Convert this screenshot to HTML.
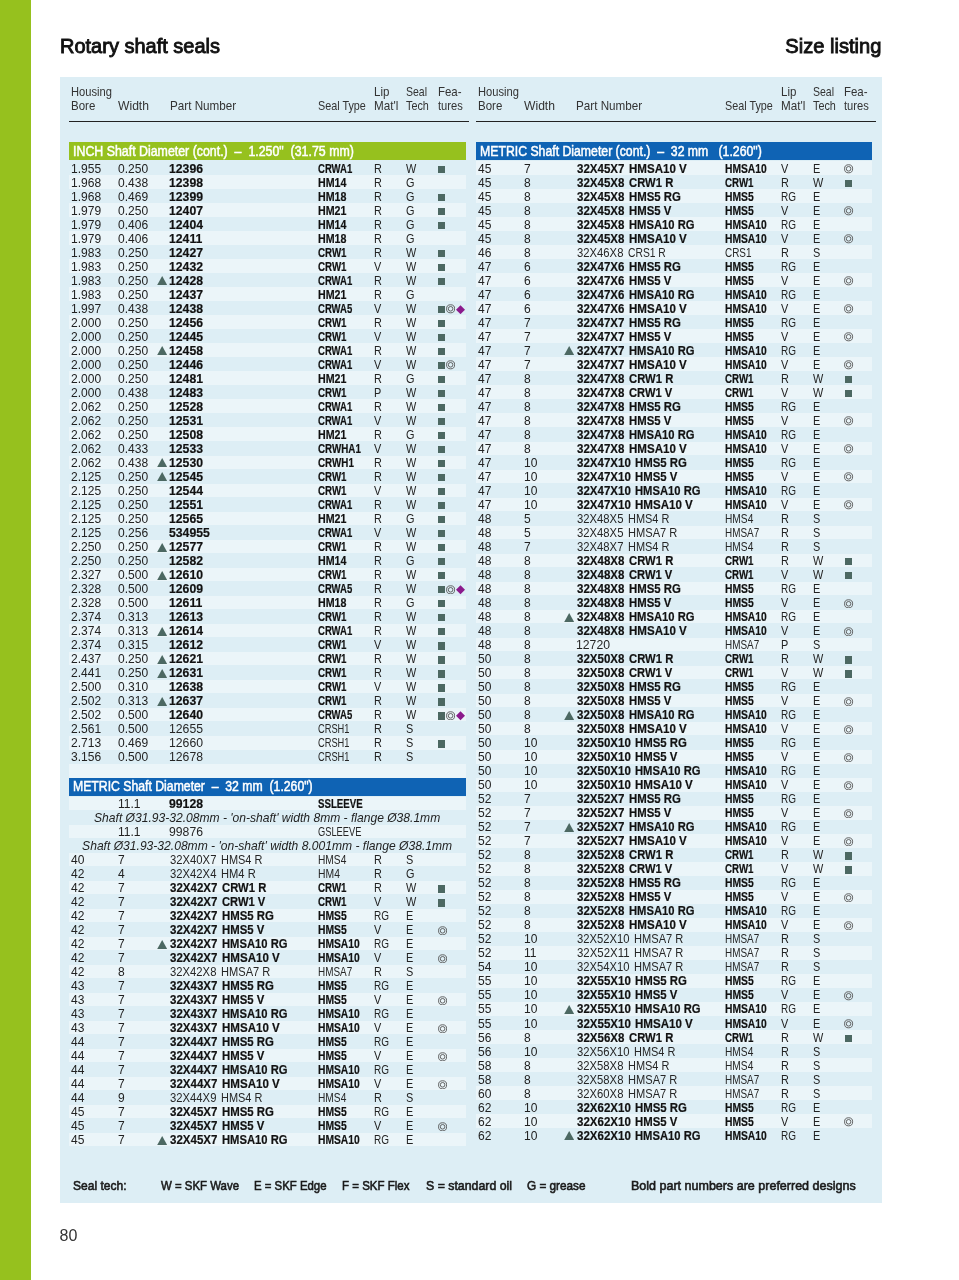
<!DOCTYPE html>
<html lang="en"><head><meta charset="utf-8"><title>Rotary shaft seals - Size listing</title>
<style>
html,body{margin:0;padding:0;background:#fff}
body{width:959px;height:1280px;overflow:hidden;font-family:"Liberation Sans",sans-serif;color:#111}
.page{position:relative;width:959px;height:1280px;overflow:hidden}
.bar{position:absolute;left:0;top:0;width:30.6px;height:1280px;background:#96c11e}
.panel{position:absolute;left:59.5px;top:77px;width:822.1px;height:1125.5px;background:#ddeef5}
.title{position:absolute;top:34.4px;font-size:20.6px;line-height:24px;font-weight:normal;-webkit-text-stroke:.9px #111;white-space:nowrap;color:#111}
.tl{left:60px;transform-origin:0 50%}
.tr{right:78px;transform-origin:100% 50%}
.hd{position:absolute;top:0;width:400px;height:130px}
.h{position:absolute;font-size:13.2px;line-height:16px;white-space:nowrap;color:#333;transform-origin:0 50%}
.h1{top:84.3px}.h2{top:98.1px}
.rule{position:absolute;left:0;top:121.1px;width:399.5px;height:1.3px;background:#222}
.col{position:absolute;top:0;width:396.3px;height:1160px}
.band{position:absolute;left:0;width:396.3px;height:18.1px}
.band.green{background:#96c11e}
.band.blue{background:#0f63b4}
.bt{font-weight:normal;-webkit-text-stroke:.5px #fff;position:absolute;left:3.8px;top:.6px;font-size:14px;line-height:16px;color:#fff;white-space:pre;transform-origin:0 50%}
.row{position:absolute;left:0;width:396.3px;height:13.7px}
.row.alt{background:#ebf5f9}
.c{position:absolute;top:.4px;font-size:13.3px;line-height:14px;white-space:nowrap;transform-origin:0 50%;color:#222}
.bd .p,.bd .t{font-weight:bold;color:#111;-webkit-text-stroke:.2px #111}
.lt .p,.lt .t{color:#262626}
.b{left:2px}.w{left:48.3px}.p{left:100.8px}.t{left:248.8px}.l{left:304.5px}.s{left:337px}
.f{position:absolute;left:368.3px;top:0;height:14px}
.sq{position:absolute;top:4.5px;width:7.2px;height:7.3px;background:#4c6862}
.ci{position:absolute;top:2.9px;width:9.2px;height:9.6px;fill:none;stroke:#505050;stroke-width:.95}
.di{position:absolute;top:3.6px;width:9px;height:9.3px;fill:#8b1a8c}
.tri{position:absolute;left:87.6px;top:2.9px;width:10.4px;height:9.1px;fill:#4c6862}
.note{position:absolute;left:-60px;right:-60px;top:.4px;text-align:center;font-style:italic;font-size:13.3px;line-height:14px;white-space:nowrap;color:#222}
.legend{position:absolute;left:0;top:1177px;width:959px;height:18px}
.lg{position:absolute;top:0;font-size:13.2px;line-height:18px;font-weight:normal;-webkit-text-stroke:.6px #1a1a1a;white-space:nowrap;color:#1a1a1a;transform-origin:0 50%}
.pn{position:absolute;left:59.5px;top:1226.3px;font-size:16px;line-height:20px;color:#333}

</style></head><body>
<div class="page">
<div class="bar"></div>
<div class="title tl" style="transform:scaleX(0.971)">Rotary shaft seals</div>
<div class="title tr" style="transform:scaleX(0.977)">Size listing</div>
<div class="panel"></div>
<div class="hd" style="left:69.30px"><span class="h h1" style="left:2.0px;transform:scaleX(0.845)">Housing</span><span class="h h2" style="left:2.0px;transform:scaleX(0.872)">Bore</span><span class="h h2" style="left:48.3px;transform:scaleX(0.919)">Width</span><span class="h h2" style="left:100.3px;transform:scaleX(0.886)">Part Number</span><span class="h h2" style="left:248.8px;transform:scaleX(0.819)">Seal Type</span><span class="h h1" style="left:304.5px;transform:scaleX(0.873)">Lip</span><span class="h h2" style="left:304.5px;transform:scaleX(0.885)">Mat'l</span><span class="h h1" style="left:337.0px;transform:scaleX(0.798)">Seal</span><span class="h h2" style="left:337.0px;transform:scaleX(0.819)">Tech</span><span class="h h1" style="left:368.3px;transform:scaleX(0.869)">Fea-</span><span class="h h2" style="left:368.3px;transform:scaleX(0.846)">tures</span><div class="rule"></div></div>
<div class="hd" style="left:476.20px"><span class="h h1" style="left:2.0px;transform:scaleX(0.845)">Housing</span><span class="h h2" style="left:2.0px;transform:scaleX(0.872)">Bore</span><span class="h h2" style="left:48.3px;transform:scaleX(0.919)">Width</span><span class="h h2" style="left:100.3px;transform:scaleX(0.886)">Part Number</span><span class="h h2" style="left:248.8px;transform:scaleX(0.819)">Seal Type</span><span class="h h1" style="left:304.5px;transform:scaleX(0.873)">Lip</span><span class="h h2" style="left:304.5px;transform:scaleX(0.885)">Mat'l</span><span class="h h1" style="left:337.0px;transform:scaleX(0.798)">Seal</span><span class="h h2" style="left:337.0px;transform:scaleX(0.819)">Tech</span><span class="h h1" style="left:368.3px;transform:scaleX(0.869)">Fea-</span><span class="h h2" style="left:368.3px;transform:scaleX(0.846)">tures</span><div class="rule"></div></div>
<div class="col" style="left:69.30px">
<div class="band green" style="top:142.3px"><span class="bt" style="transform:scaleX(0.884)">INCH Shaft Diameter (cont.)  –  1.250"  (31.75 mm)</span></div>
<div class="row bd" style="top:161.20px"><span class="c b" style="transform:scaleX(0.905)">1.955</span><span class="c w" style="transform:scaleX(0.905)">0.250</span><span class="c p" style="left:99.9px;transform:scaleX(0.919)">12396</span><span class="c t" style="transform:scaleX(0.716)">CRWA1</span><span class="c l" style="transform:scaleX(0.818)">R</span><span class="c s" style="transform:scaleX(0.818)">W</span><span class="f"><i class="sq" style="left:0.5px"></i></span></div>
<div class="row alt bd" style="top:175.21px"><span class="c b" style="transform:scaleX(0.905)">1.968</span><span class="c w" style="transform:scaleX(0.905)">0.438</span><span class="c p" style="left:99.9px;transform:scaleX(0.919)">12398</span><span class="c t" style="transform:scaleX(0.803)">HM14</span><span class="c l" style="transform:scaleX(0.818)">R</span><span class="c s" style="transform:scaleX(0.818)">G</span></div>
<div class="row bd" style="top:189.23px"><span class="c b" style="transform:scaleX(0.905)">1.968</span><span class="c w" style="transform:scaleX(0.905)">0.469</span><span class="c p" style="left:99.9px;transform:scaleX(0.919)">12399</span><span class="c t" style="transform:scaleX(0.803)">HM18</span><span class="c l" style="transform:scaleX(0.818)">R</span><span class="c s" style="transform:scaleX(0.818)">G</span><span class="f"><i class="sq" style="left:0.5px"></i></span></div>
<div class="row alt bd" style="top:203.25px"><span class="c b" style="transform:scaleX(0.905)">1.979</span><span class="c w" style="transform:scaleX(0.905)">0.250</span><span class="c p" style="left:99.9px;transform:scaleX(0.919)">12407</span><span class="c t" style="transform:scaleX(0.803)">HM21</span><span class="c l" style="transform:scaleX(0.818)">R</span><span class="c s" style="transform:scaleX(0.818)">G</span><span class="f"><i class="sq" style="left:0.5px"></i></span></div>
<div class="row bd" style="top:217.26px"><span class="c b" style="transform:scaleX(0.905)">1.979</span><span class="c w" style="transform:scaleX(0.905)">0.406</span><span class="c p" style="left:99.9px;transform:scaleX(0.919)">12404</span><span class="c t" style="transform:scaleX(0.803)">HM14</span><span class="c l" style="transform:scaleX(0.818)">R</span><span class="c s" style="transform:scaleX(0.818)">G</span><span class="f"><i class="sq" style="left:0.5px"></i></span></div>
<div class="row alt bd" style="top:231.27px"><span class="c b" style="transform:scaleX(0.905)">1.979</span><span class="c w" style="transform:scaleX(0.905)">0.406</span><span class="c p" style="left:99.9px;transform:scaleX(0.919)">12411</span><span class="c t" style="transform:scaleX(0.803)">HM18</span><span class="c l" style="transform:scaleX(0.818)">R</span><span class="c s" style="transform:scaleX(0.818)">G</span></div>
<div class="row bd" style="top:245.29px"><span class="c b" style="transform:scaleX(0.905)">1.983</span><span class="c w" style="transform:scaleX(0.905)">0.250</span><span class="c p" style="left:99.9px;transform:scaleX(0.919)">12427</span><span class="c t" style="transform:scaleX(0.732)">CRW1</span><span class="c l" style="transform:scaleX(0.818)">R</span><span class="c s" style="transform:scaleX(0.818)">W</span><span class="f"><i class="sq" style="left:0.5px"></i></span></div>
<div class="row alt bd" style="top:259.31px"><span class="c b" style="transform:scaleX(0.905)">1.983</span><span class="c w" style="transform:scaleX(0.905)">0.250</span><span class="c p" style="left:99.9px;transform:scaleX(0.919)">12432</span><span class="c t" style="transform:scaleX(0.732)">CRW1</span><span class="c l" style="transform:scaleX(0.818)">V</span><span class="c s" style="transform:scaleX(0.818)">W</span><span class="f"><i class="sq" style="left:0.5px"></i></span></div>
<div class="row bd" style="top:273.32px"><span class="c b" style="transform:scaleX(0.905)">1.983</span><span class="c w" style="transform:scaleX(0.905)">0.250</span><svg class="tri" viewBox="0 0 10 9"><path d="M5 0L10 9H0z"/></svg><span class="c p" style="left:99.9px;transform:scaleX(0.919)">12428</span><span class="c t" style="transform:scaleX(0.716)">CRWA1</span><span class="c l" style="transform:scaleX(0.818)">R</span><span class="c s" style="transform:scaleX(0.818)">W</span><span class="f"><i class="sq" style="left:0.5px"></i></span></div>
<div class="row alt bd" style="top:287.33px"><span class="c b" style="transform:scaleX(0.905)">1.983</span><span class="c w" style="transform:scaleX(0.905)">0.250</span><span class="c p" style="left:99.9px;transform:scaleX(0.919)">12437</span><span class="c t" style="transform:scaleX(0.803)">HM21</span><span class="c l" style="transform:scaleX(0.818)">R</span><span class="c s" style="transform:scaleX(0.818)">G</span></div>
<div class="row bd" style="top:301.35px"><span class="c b" style="transform:scaleX(0.905)">1.997</span><span class="c w" style="transform:scaleX(0.905)">0.438</span><span class="c p" style="left:99.9px;transform:scaleX(0.919)">12438</span><span class="c t" style="transform:scaleX(0.716)">CRWA5</span><span class="c l" style="transform:scaleX(0.818)">V</span><span class="c s" style="transform:scaleX(0.818)">W</span><span class="f"><i class="sq" style="left:0.5px"></i><svg class="ci" style="left:8.2px" viewBox="0 0 10 10"><circle cx="5" cy="5" r="4.4"/><circle cx="5" cy="5" r="2.5"/></svg><svg class="di" style="left:18.2px" viewBox="0 0 10 10"><path d="M5 0L10 5L5 10L0 5z"/></svg></span></div>
<div class="row alt bd" style="top:315.37px"><span class="c b" style="transform:scaleX(0.905)">2.000</span><span class="c w" style="transform:scaleX(0.905)">0.250</span><span class="c p" style="left:99.9px;transform:scaleX(0.919)">12456</span><span class="c t" style="transform:scaleX(0.732)">CRW1</span><span class="c l" style="transform:scaleX(0.818)">R</span><span class="c s" style="transform:scaleX(0.818)">W</span><span class="f"><i class="sq" style="left:0.5px"></i></span></div>
<div class="row bd" style="top:329.38px"><span class="c b" style="transform:scaleX(0.905)">2.000</span><span class="c w" style="transform:scaleX(0.905)">0.250</span><span class="c p" style="left:99.9px;transform:scaleX(0.919)">12445</span><span class="c t" style="transform:scaleX(0.732)">CRW1</span><span class="c l" style="transform:scaleX(0.818)">V</span><span class="c s" style="transform:scaleX(0.818)">W</span><span class="f"><i class="sq" style="left:0.5px"></i></span></div>
<div class="row alt bd" style="top:343.39px"><span class="c b" style="transform:scaleX(0.905)">2.000</span><span class="c w" style="transform:scaleX(0.905)">0.250</span><svg class="tri" viewBox="0 0 10 9"><path d="M5 0L10 9H0z"/></svg><span class="c p" style="left:99.9px;transform:scaleX(0.919)">12458</span><span class="c t" style="transform:scaleX(0.716)">CRWA1</span><span class="c l" style="transform:scaleX(0.818)">R</span><span class="c s" style="transform:scaleX(0.818)">W</span><span class="f"><i class="sq" style="left:0.5px"></i></span></div>
<div class="row bd" style="top:357.41px"><span class="c b" style="transform:scaleX(0.905)">2.000</span><span class="c w" style="transform:scaleX(0.905)">0.250</span><span class="c p" style="left:99.9px;transform:scaleX(0.919)">12446</span><span class="c t" style="transform:scaleX(0.716)">CRWA1</span><span class="c l" style="transform:scaleX(0.818)">V</span><span class="c s" style="transform:scaleX(0.818)">W</span><span class="f"><i class="sq" style="left:0.5px"></i><svg class="ci" style="left:8.2px" viewBox="0 0 10 10"><circle cx="5" cy="5" r="4.4"/><circle cx="5" cy="5" r="2.5"/></svg></span></div>
<div class="row alt bd" style="top:371.43px"><span class="c b" style="transform:scaleX(0.905)">2.000</span><span class="c w" style="transform:scaleX(0.905)">0.250</span><span class="c p" style="left:99.9px;transform:scaleX(0.919)">12481</span><span class="c t" style="transform:scaleX(0.803)">HM21</span><span class="c l" style="transform:scaleX(0.818)">R</span><span class="c s" style="transform:scaleX(0.818)">G</span><span class="f"><i class="sq" style="left:0.5px"></i></span></div>
<div class="row bd" style="top:385.44px"><span class="c b" style="transform:scaleX(0.905)">2.000</span><span class="c w" style="transform:scaleX(0.905)">0.438</span><span class="c p" style="left:99.9px;transform:scaleX(0.919)">12483</span><span class="c t" style="transform:scaleX(0.732)">CRW1</span><span class="c l" style="transform:scaleX(0.818)">P</span><span class="c s" style="transform:scaleX(0.818)">W</span><span class="f"><i class="sq" style="left:0.5px"></i></span></div>
<div class="row alt bd" style="top:399.45px"><span class="c b" style="transform:scaleX(0.905)">2.062</span><span class="c w" style="transform:scaleX(0.905)">0.250</span><span class="c p" style="left:99.9px;transform:scaleX(0.919)">12528</span><span class="c t" style="transform:scaleX(0.716)">CRWA1</span><span class="c l" style="transform:scaleX(0.818)">R</span><span class="c s" style="transform:scaleX(0.818)">W</span><span class="f"><i class="sq" style="left:0.5px"></i></span></div>
<div class="row bd" style="top:413.47px"><span class="c b" style="transform:scaleX(0.905)">2.062</span><span class="c w" style="transform:scaleX(0.905)">0.250</span><span class="c p" style="left:99.9px;transform:scaleX(0.919)">12531</span><span class="c t" style="transform:scaleX(0.716)">CRWA1</span><span class="c l" style="transform:scaleX(0.818)">V</span><span class="c s" style="transform:scaleX(0.818)">W</span><span class="f"><i class="sq" style="left:0.5px"></i></span></div>
<div class="row alt bd" style="top:427.49px"><span class="c b" style="transform:scaleX(0.905)">2.062</span><span class="c w" style="transform:scaleX(0.905)">0.250</span><span class="c p" style="left:99.9px;transform:scaleX(0.919)">12508</span><span class="c t" style="transform:scaleX(0.803)">HM21</span><span class="c l" style="transform:scaleX(0.818)">R</span><span class="c s" style="transform:scaleX(0.818)">G</span><span class="f"><i class="sq" style="left:0.5px"></i></span></div>
<div class="row bd" style="top:441.50px"><span class="c b" style="transform:scaleX(0.905)">2.062</span><span class="c w" style="transform:scaleX(0.905)">0.433</span><span class="c p" style="left:99.9px;transform:scaleX(0.919)">12533</span><span class="c t" style="transform:scaleX(0.738)">CRWHA1</span><span class="c l" style="transform:scaleX(0.818)">V</span><span class="c s" style="transform:scaleX(0.818)">W</span><span class="f"><i class="sq" style="left:0.5px"></i></span></div>
<div class="row alt bd" style="top:455.51px"><span class="c b" style="transform:scaleX(0.905)">2.062</span><span class="c w" style="transform:scaleX(0.905)">0.438</span><svg class="tri" viewBox="0 0 10 9"><path d="M5 0L10 9H0z"/></svg><span class="c p" style="left:99.9px;transform:scaleX(0.919)">12530</span><span class="c t" style="transform:scaleX(0.740)">CRWH1</span><span class="c l" style="transform:scaleX(0.818)">R</span><span class="c s" style="transform:scaleX(0.818)">W</span><span class="f"><i class="sq" style="left:0.5px"></i></span></div>
<div class="row bd" style="top:469.53px"><span class="c b" style="transform:scaleX(0.905)">2.125</span><span class="c w" style="transform:scaleX(0.905)">0.250</span><svg class="tri" viewBox="0 0 10 9"><path d="M5 0L10 9H0z"/></svg><span class="c p" style="left:99.9px;transform:scaleX(0.919)">12545</span><span class="c t" style="transform:scaleX(0.732)">CRW1</span><span class="c l" style="transform:scaleX(0.818)">R</span><span class="c s" style="transform:scaleX(0.818)">W</span><span class="f"><i class="sq" style="left:0.5px"></i></span></div>
<div class="row alt bd" style="top:483.55px"><span class="c b" style="transform:scaleX(0.905)">2.125</span><span class="c w" style="transform:scaleX(0.905)">0.250</span><span class="c p" style="left:99.9px;transform:scaleX(0.919)">12544</span><span class="c t" style="transform:scaleX(0.732)">CRW1</span><span class="c l" style="transform:scaleX(0.818)">V</span><span class="c s" style="transform:scaleX(0.818)">W</span><span class="f"><i class="sq" style="left:0.5px"></i></span></div>
<div class="row bd" style="top:497.56px"><span class="c b" style="transform:scaleX(0.905)">2.125</span><span class="c w" style="transform:scaleX(0.905)">0.250</span><span class="c p" style="left:99.9px;transform:scaleX(0.919)">12551</span><span class="c t" style="transform:scaleX(0.716)">CRWA1</span><span class="c l" style="transform:scaleX(0.818)">R</span><span class="c s" style="transform:scaleX(0.818)">W</span><span class="f"><i class="sq" style="left:0.5px"></i></span></div>
<div class="row alt bd" style="top:511.57px"><span class="c b" style="transform:scaleX(0.905)">2.125</span><span class="c w" style="transform:scaleX(0.905)">0.250</span><span class="c p" style="left:99.9px;transform:scaleX(0.919)">12565</span><span class="c t" style="transform:scaleX(0.803)">HM21</span><span class="c l" style="transform:scaleX(0.818)">R</span><span class="c s" style="transform:scaleX(0.818)">G</span><span class="f"><i class="sq" style="left:0.5px"></i></span></div>
<div class="row bd" style="top:525.59px"><span class="c b" style="transform:scaleX(0.905)">2.125</span><span class="c w" style="transform:scaleX(0.905)">0.256</span><span class="c p" style="left:99.9px;transform:scaleX(0.919)">534955</span><span class="c t" style="transform:scaleX(0.716)">CRWA1</span><span class="c l" style="transform:scaleX(0.818)">V</span><span class="c s" style="transform:scaleX(0.818)">W</span><span class="f"><i class="sq" style="left:0.5px"></i></span></div>
<div class="row alt bd" style="top:539.61px"><span class="c b" style="transform:scaleX(0.905)">2.250</span><span class="c w" style="transform:scaleX(0.905)">0.250</span><svg class="tri" viewBox="0 0 10 9"><path d="M5 0L10 9H0z"/></svg><span class="c p" style="left:99.9px;transform:scaleX(0.919)">12577</span><span class="c t" style="transform:scaleX(0.732)">CRW1</span><span class="c l" style="transform:scaleX(0.818)">R</span><span class="c s" style="transform:scaleX(0.818)">W</span><span class="f"><i class="sq" style="left:0.5px"></i></span></div>
<div class="row bd" style="top:553.62px"><span class="c b" style="transform:scaleX(0.905)">2.250</span><span class="c w" style="transform:scaleX(0.905)">0.250</span><span class="c p" style="left:99.9px;transform:scaleX(0.919)">12582</span><span class="c t" style="transform:scaleX(0.803)">HM14</span><span class="c l" style="transform:scaleX(0.818)">R</span><span class="c s" style="transform:scaleX(0.818)">G</span><span class="f"><i class="sq" style="left:0.5px"></i></span></div>
<div class="row alt bd" style="top:567.63px"><span class="c b" style="transform:scaleX(0.905)">2.327</span><span class="c w" style="transform:scaleX(0.905)">0.500</span><svg class="tri" viewBox="0 0 10 9"><path d="M5 0L10 9H0z"/></svg><span class="c p" style="left:99.9px;transform:scaleX(0.919)">12610</span><span class="c t" style="transform:scaleX(0.732)">CRW1</span><span class="c l" style="transform:scaleX(0.818)">R</span><span class="c s" style="transform:scaleX(0.818)">W</span><span class="f"><i class="sq" style="left:0.5px"></i></span></div>
<div class="row bd" style="top:581.65px"><span class="c b" style="transform:scaleX(0.905)">2.328</span><span class="c w" style="transform:scaleX(0.905)">0.500</span><span class="c p" style="left:99.9px;transform:scaleX(0.919)">12609</span><span class="c t" style="transform:scaleX(0.716)">CRWA5</span><span class="c l" style="transform:scaleX(0.818)">R</span><span class="c s" style="transform:scaleX(0.818)">W</span><span class="f"><i class="sq" style="left:0.5px"></i><svg class="ci" style="left:8.2px" viewBox="0 0 10 10"><circle cx="5" cy="5" r="4.4"/><circle cx="5" cy="5" r="2.5"/></svg><svg class="di" style="left:18.2px" viewBox="0 0 10 10"><path d="M5 0L10 5L5 10L0 5z"/></svg></span></div>
<div class="row alt bd" style="top:595.67px"><span class="c b" style="transform:scaleX(0.905)">2.328</span><span class="c w" style="transform:scaleX(0.905)">0.500</span><span class="c p" style="left:99.9px;transform:scaleX(0.919)">12611</span><span class="c t" style="transform:scaleX(0.803)">HM18</span><span class="c l" style="transform:scaleX(0.818)">R</span><span class="c s" style="transform:scaleX(0.818)">G</span><span class="f"><i class="sq" style="left:0.5px"></i></span></div>
<div class="row bd" style="top:609.68px"><span class="c b" style="transform:scaleX(0.905)">2.374</span><span class="c w" style="transform:scaleX(0.905)">0.313</span><span class="c p" style="left:99.9px;transform:scaleX(0.919)">12613</span><span class="c t" style="transform:scaleX(0.732)">CRW1</span><span class="c l" style="transform:scaleX(0.818)">R</span><span class="c s" style="transform:scaleX(0.818)">W</span><span class="f"><i class="sq" style="left:0.5px"></i></span></div>
<div class="row alt bd" style="top:623.70px"><span class="c b" style="transform:scaleX(0.905)">2.374</span><span class="c w" style="transform:scaleX(0.905)">0.313</span><svg class="tri" viewBox="0 0 10 9"><path d="M5 0L10 9H0z"/></svg><span class="c p" style="left:99.9px;transform:scaleX(0.919)">12614</span><span class="c t" style="transform:scaleX(0.716)">CRWA1</span><span class="c l" style="transform:scaleX(0.818)">R</span><span class="c s" style="transform:scaleX(0.818)">W</span><span class="f"><i class="sq" style="left:0.5px"></i></span></div>
<div class="row bd" style="top:637.71px"><span class="c b" style="transform:scaleX(0.905)">2.374</span><span class="c w" style="transform:scaleX(0.905)">0.315</span><span class="c p" style="left:99.9px;transform:scaleX(0.919)">12612</span><span class="c t" style="transform:scaleX(0.732)">CRW1</span><span class="c l" style="transform:scaleX(0.818)">V</span><span class="c s" style="transform:scaleX(0.818)">W</span><span class="f"><i class="sq" style="left:0.5px"></i></span></div>
<div class="row alt bd" style="top:651.73px"><span class="c b" style="transform:scaleX(0.905)">2.437</span><span class="c w" style="transform:scaleX(0.905)">0.250</span><svg class="tri" viewBox="0 0 10 9"><path d="M5 0L10 9H0z"/></svg><span class="c p" style="left:99.9px;transform:scaleX(0.919)">12621</span><span class="c t" style="transform:scaleX(0.732)">CRW1</span><span class="c l" style="transform:scaleX(0.818)">R</span><span class="c s" style="transform:scaleX(0.818)">W</span><span class="f"><i class="sq" style="left:0.5px"></i></span></div>
<div class="row bd" style="top:665.74px"><span class="c b" style="transform:scaleX(0.905)">2.441</span><span class="c w" style="transform:scaleX(0.905)">0.250</span><svg class="tri" viewBox="0 0 10 9"><path d="M5 0L10 9H0z"/></svg><span class="c p" style="left:99.9px;transform:scaleX(0.919)">12631</span><span class="c t" style="transform:scaleX(0.732)">CRW1</span><span class="c l" style="transform:scaleX(0.818)">R</span><span class="c s" style="transform:scaleX(0.818)">W</span><span class="f"><i class="sq" style="left:0.5px"></i></span></div>
<div class="row alt bd" style="top:679.76px"><span class="c b" style="transform:scaleX(0.905)">2.500</span><span class="c w" style="transform:scaleX(0.905)">0.310</span><span class="c p" style="left:99.9px;transform:scaleX(0.919)">12638</span><span class="c t" style="transform:scaleX(0.732)">CRW1</span><span class="c l" style="transform:scaleX(0.818)">V</span><span class="c s" style="transform:scaleX(0.818)">W</span><span class="f"><i class="sq" style="left:0.5px"></i></span></div>
<div class="row bd" style="top:693.77px"><span class="c b" style="transform:scaleX(0.905)">2.502</span><span class="c w" style="transform:scaleX(0.905)">0.313</span><svg class="tri" viewBox="0 0 10 9"><path d="M5 0L10 9H0z"/></svg><span class="c p" style="left:99.9px;transform:scaleX(0.919)">12637</span><span class="c t" style="transform:scaleX(0.732)">CRW1</span><span class="c l" style="transform:scaleX(0.818)">R</span><span class="c s" style="transform:scaleX(0.818)">W</span><span class="f"><i class="sq" style="left:0.5px"></i></span></div>
<div class="row alt bd" style="top:707.79px"><span class="c b" style="transform:scaleX(0.905)">2.502</span><span class="c w" style="transform:scaleX(0.905)">0.500</span><span class="c p" style="left:99.9px;transform:scaleX(0.919)">12640</span><span class="c t" style="transform:scaleX(0.716)">CRWA5</span><span class="c l" style="transform:scaleX(0.818)">R</span><span class="c s" style="transform:scaleX(0.818)">W</span><span class="f"><i class="sq" style="left:0.5px"></i><svg class="ci" style="left:8.2px" viewBox="0 0 10 10"><circle cx="5" cy="5" r="4.4"/><circle cx="5" cy="5" r="2.5"/></svg><svg class="di" style="left:18.2px" viewBox="0 0 10 10"><path d="M5 0L10 5L5 10L0 5z"/></svg></span></div>
<div class="row lt" style="top:721.80px"><span class="c b" style="transform:scaleX(0.905)">2.561</span><span class="c w" style="transform:scaleX(0.905)">0.500</span><span class="c p" style="left:99.9px;transform:scaleX(0.919)">12655</span><span class="c t" style="transform:scaleX(0.699)">CRSH1</span><span class="c l" style="transform:scaleX(0.818)">R</span><span class="c s" style="transform:scaleX(0.818)">S</span></div>
<div class="row alt lt" style="top:735.82px"><span class="c b" style="transform:scaleX(0.905)">2.713</span><span class="c w" style="transform:scaleX(0.905)">0.469</span><span class="c p" style="left:99.9px;transform:scaleX(0.919)">12660</span><span class="c t" style="transform:scaleX(0.699)">CRSH1</span><span class="c l" style="transform:scaleX(0.818)">R</span><span class="c s" style="transform:scaleX(0.818)">S</span><span class="f"><i class="sq" style="left:0.5px"></i></span></div>
<div class="row lt" style="top:749.83px"><span class="c b" style="transform:scaleX(0.905)">3.156</span><span class="c w" style="transform:scaleX(0.905)">0.500</span><span class="c p" style="left:99.9px;transform:scaleX(0.919)">12678</span><span class="c t" style="transform:scaleX(0.699)">CRSH1</span><span class="c l" style="transform:scaleX(0.818)">R</span><span class="c s" style="transform:scaleX(0.818)">S</span></div>
<div class="row alt" style="top:763.85px"></div>
<div class="band blue" style="top:777.5px"><span class="bt" style="transform:scaleX(0.874)">METRIC Shaft Diameter  –  32 mm  (1.260")</span></div>
<div class="row alt bd" style="top:796.80px"><span class="c w" style="transform:scaleX(0.905)">11.1</span><span class="c p" style="left:99.9px;transform:scaleX(0.919)">99128</span><span class="c t" style="transform:scaleX(0.729)">SSLEEVE</span></div>
<div class="row" style="top:810.80px"><span class="note" style="transform:scaleX(0.908)">Shaft Ø31.93-32.08mm - 'on-shaft' width 8mm - flange Ø38.1mm</span></div>
<div class="row alt lt" style="top:824.80px"><span class="c w" style="transform:scaleX(0.905)">11.1</span><span class="c p" style="left:99.9px;transform:scaleX(0.919)">99876</span><span class="c t" style="transform:scaleX(0.699)">GSLEEVE</span></div>
<div class="row" style="top:838.80px"><span class="note" style="transform:scaleX(0.909)">Shaft Ø31.93-32.08mm - 'on-shaft' width 8.001mm - flange Ø38.1mm</span></div>
<div class="row alt lt" style="top:852.80px"><span class="c b" style="transform:scaleX(0.905)">40</span><span class="c w" style="transform:scaleX(0.905)">7</span><span class="c p" style="transform:scaleX(0.848)">32X40X7 </span><span class="c p" style="left:151.5px;transform:scaleX(0.824)">HMS4 R</span><span class="c t" style="transform:scaleX(0.766)">HMS4</span><span class="c l" style="transform:scaleX(0.818)">R</span><span class="c s" style="transform:scaleX(0.818)">S</span></div>
<div class="row lt" style="top:866.80px"><span class="c b" style="transform:scaleX(0.905)">42</span><span class="c w" style="transform:scaleX(0.905)">4</span><span class="c p" style="transform:scaleX(0.848)">32X42X4 </span><span class="c p" style="left:151.5px;transform:scaleX(0.839)">HM4 R</span><span class="c t" style="transform:scaleX(0.780)">HM4</span><span class="c l" style="transform:scaleX(0.818)">R</span><span class="c s" style="transform:scaleX(0.818)">G</span></div>
<div class="row alt bd" style="top:880.80px"><span class="c b" style="transform:scaleX(0.905)">42</span><span class="c w" style="transform:scaleX(0.905)">7</span><span class="c p" style="transform:scaleX(0.866)">32X42X7 </span><span class="c p" style="left:152.5px;transform:scaleX(0.848)">CRW1 R</span><span class="c t" style="transform:scaleX(0.732)">CRW1</span><span class="c l" style="transform:scaleX(0.818)">R</span><span class="c s" style="transform:scaleX(0.818)">W</span><span class="f"><i class="sq" style="left:0.5px"></i></span></div>
<div class="row bd" style="top:894.80px"><span class="c b" style="transform:scaleX(0.905)">42</span><span class="c w" style="transform:scaleX(0.905)">7</span><span class="c p" style="transform:scaleX(0.866)">32X42X7 </span><span class="c p" style="left:152.5px;transform:scaleX(0.841)">CRW1 V</span><span class="c t" style="transform:scaleX(0.732)">CRW1</span><span class="c l" style="transform:scaleX(0.818)">V</span><span class="c s" style="transform:scaleX(0.818)">W</span><span class="f"><i class="sq" style="left:0.5px"></i></span></div>
<div class="row alt bd" style="top:908.80px"><span class="c b" style="transform:scaleX(0.905)">42</span><span class="c w" style="transform:scaleX(0.905)">7</span><span class="c p" style="transform:scaleX(0.866)">32X42X7 </span><span class="c p" style="left:152.5px;transform:scaleX(0.857)">HMS5 RG</span><span class="c t" style="transform:scaleX(0.778)">HMS5</span><span class="c l" style="transform:scaleX(0.752)">RG</span><span class="c s" style="transform:scaleX(0.818)">E</span></div>
<div class="row bd" style="top:922.80px"><span class="c b" style="transform:scaleX(0.905)">42</span><span class="c w" style="transform:scaleX(0.905)">7</span><span class="c p" style="transform:scaleX(0.866)">32X42X7 </span><span class="c p" style="left:152.5px;transform:scaleX(0.854)">HMS5 V</span><span class="c t" style="transform:scaleX(0.778)">HMS5</span><span class="c l" style="transform:scaleX(0.818)">V</span><span class="c s" style="transform:scaleX(0.818)">E</span><span class="f"><svg class="ci" style="left:0.0px" viewBox="0 0 10 10"><circle cx="5" cy="5" r="4.4"/><circle cx="5" cy="5" r="2.5"/></svg></span></div>
<div class="row alt bd" style="top:936.80px"><span class="c b" style="transform:scaleX(0.905)">42</span><span class="c w" style="transform:scaleX(0.905)">7</span><svg class="tri" viewBox="0 0 10 9"><path d="M5 0L10 9H0z"/></svg><span class="c p" style="transform:scaleX(0.866)">32X42X7 </span><span class="c p" style="left:152.5px;transform:scaleX(0.845)">HMSA10 RG</span><span class="c t" style="transform:scaleX(0.774)">HMSA10</span><span class="c l" style="transform:scaleX(0.752)">RG</span><span class="c s" style="transform:scaleX(0.818)">E</span></div>
<div class="row bd" style="top:950.80px"><span class="c b" style="transform:scaleX(0.905)">42</span><span class="c w" style="transform:scaleX(0.905)">7</span><span class="c p" style="transform:scaleX(0.866)">32X42X7 </span><span class="c p" style="left:152.5px;transform:scaleX(0.869)">HMSA10 V</span><span class="c t" style="transform:scaleX(0.774)">HMSA10</span><span class="c l" style="transform:scaleX(0.818)">V</span><span class="c s" style="transform:scaleX(0.818)">E</span><span class="f"><svg class="ci" style="left:0.0px" viewBox="0 0 10 10"><circle cx="5" cy="5" r="4.4"/><circle cx="5" cy="5" r="2.5"/></svg></span></div>
<div class="row alt lt" style="top:964.80px"><span class="c b" style="transform:scaleX(0.905)">42</span><span class="c w" style="transform:scaleX(0.905)">8</span><span class="c p" style="transform:scaleX(0.848)">32X42X8 </span><span class="c p" style="left:151.5px;transform:scaleX(0.834)">HMSA7 R</span><span class="c t" style="transform:scaleX(0.747)">HMSA7</span><span class="c l" style="transform:scaleX(0.818)">R</span><span class="c s" style="transform:scaleX(0.818)">S</span></div>
<div class="row bd" style="top:978.80px"><span class="c b" style="transform:scaleX(0.905)">43</span><span class="c w" style="transform:scaleX(0.905)">7</span><span class="c p" style="transform:scaleX(0.866)">32X43X7 </span><span class="c p" style="left:152.5px;transform:scaleX(0.857)">HMS5 RG</span><span class="c t" style="transform:scaleX(0.778)">HMS5</span><span class="c l" style="transform:scaleX(0.752)">RG</span><span class="c s" style="transform:scaleX(0.818)">E</span></div>
<div class="row alt bd" style="top:992.80px"><span class="c b" style="transform:scaleX(0.905)">43</span><span class="c w" style="transform:scaleX(0.905)">7</span><span class="c p" style="transform:scaleX(0.866)">32X43X7 </span><span class="c p" style="left:152.5px;transform:scaleX(0.854)">HMS5 V</span><span class="c t" style="transform:scaleX(0.778)">HMS5</span><span class="c l" style="transform:scaleX(0.818)">V</span><span class="c s" style="transform:scaleX(0.818)">E</span><span class="f"><svg class="ci" style="left:0.0px" viewBox="0 0 10 10"><circle cx="5" cy="5" r="4.4"/><circle cx="5" cy="5" r="2.5"/></svg></span></div>
<div class="row bd" style="top:1006.80px"><span class="c b" style="transform:scaleX(0.905)">43</span><span class="c w" style="transform:scaleX(0.905)">7</span><span class="c p" style="transform:scaleX(0.866)">32X43X7 </span><span class="c p" style="left:152.5px;transform:scaleX(0.845)">HMSA10 RG</span><span class="c t" style="transform:scaleX(0.774)">HMSA10</span><span class="c l" style="transform:scaleX(0.752)">RG</span><span class="c s" style="transform:scaleX(0.818)">E</span></div>
<div class="row alt bd" style="top:1020.80px"><span class="c b" style="transform:scaleX(0.905)">43</span><span class="c w" style="transform:scaleX(0.905)">7</span><span class="c p" style="transform:scaleX(0.866)">32X43X7 </span><span class="c p" style="left:152.5px;transform:scaleX(0.869)">HMSA10 V</span><span class="c t" style="transform:scaleX(0.774)">HMSA10</span><span class="c l" style="transform:scaleX(0.818)">V</span><span class="c s" style="transform:scaleX(0.818)">E</span><span class="f"><svg class="ci" style="left:0.0px" viewBox="0 0 10 10"><circle cx="5" cy="5" r="4.4"/><circle cx="5" cy="5" r="2.5"/></svg></span></div>
<div class="row bd" style="top:1034.80px"><span class="c b" style="transform:scaleX(0.905)">44</span><span class="c w" style="transform:scaleX(0.905)">7</span><span class="c p" style="transform:scaleX(0.866)">32X44X7 </span><span class="c p" style="left:152.5px;transform:scaleX(0.857)">HMS5 RG</span><span class="c t" style="transform:scaleX(0.778)">HMS5</span><span class="c l" style="transform:scaleX(0.752)">RG</span><span class="c s" style="transform:scaleX(0.818)">E</span></div>
<div class="row alt bd" style="top:1048.80px"><span class="c b" style="transform:scaleX(0.905)">44</span><span class="c w" style="transform:scaleX(0.905)">7</span><span class="c p" style="transform:scaleX(0.866)">32X44X7 </span><span class="c p" style="left:152.5px;transform:scaleX(0.854)">HMS5 V</span><span class="c t" style="transform:scaleX(0.778)">HMS5</span><span class="c l" style="transform:scaleX(0.818)">V</span><span class="c s" style="transform:scaleX(0.818)">E</span><span class="f"><svg class="ci" style="left:0.0px" viewBox="0 0 10 10"><circle cx="5" cy="5" r="4.4"/><circle cx="5" cy="5" r="2.5"/></svg></span></div>
<div class="row bd" style="top:1062.80px"><span class="c b" style="transform:scaleX(0.905)">44</span><span class="c w" style="transform:scaleX(0.905)">7</span><span class="c p" style="transform:scaleX(0.866)">32X44X7 </span><span class="c p" style="left:152.5px;transform:scaleX(0.845)">HMSA10 RG</span><span class="c t" style="transform:scaleX(0.774)">HMSA10</span><span class="c l" style="transform:scaleX(0.752)">RG</span><span class="c s" style="transform:scaleX(0.818)">E</span></div>
<div class="row alt bd" style="top:1076.80px"><span class="c b" style="transform:scaleX(0.905)">44</span><span class="c w" style="transform:scaleX(0.905)">7</span><span class="c p" style="transform:scaleX(0.866)">32X44X7 </span><span class="c p" style="left:152.5px;transform:scaleX(0.869)">HMSA10 V</span><span class="c t" style="transform:scaleX(0.774)">HMSA10</span><span class="c l" style="transform:scaleX(0.818)">V</span><span class="c s" style="transform:scaleX(0.818)">E</span><span class="f"><svg class="ci" style="left:0.0px" viewBox="0 0 10 10"><circle cx="5" cy="5" r="4.4"/><circle cx="5" cy="5" r="2.5"/></svg></span></div>
<div class="row lt" style="top:1090.80px"><span class="c b" style="transform:scaleX(0.905)">44</span><span class="c w" style="transform:scaleX(0.905)">9</span><span class="c p" style="transform:scaleX(0.848)">32X44X9 </span><span class="c p" style="left:151.5px;transform:scaleX(0.824)">HMS4 R</span><span class="c t" style="transform:scaleX(0.766)">HMS4</span><span class="c l" style="transform:scaleX(0.818)">R</span><span class="c s" style="transform:scaleX(0.818)">S</span></div>
<div class="row alt bd" style="top:1104.80px"><span class="c b" style="transform:scaleX(0.905)">45</span><span class="c w" style="transform:scaleX(0.905)">7</span><span class="c p" style="transform:scaleX(0.866)">32X45X7 </span><span class="c p" style="left:152.5px;transform:scaleX(0.857)">HMS5 RG</span><span class="c t" style="transform:scaleX(0.778)">HMS5</span><span class="c l" style="transform:scaleX(0.752)">RG</span><span class="c s" style="transform:scaleX(0.818)">E</span></div>
<div class="row bd" style="top:1118.80px"><span class="c b" style="transform:scaleX(0.905)">45</span><span class="c w" style="transform:scaleX(0.905)">7</span><span class="c p" style="transform:scaleX(0.866)">32X45X7 </span><span class="c p" style="left:152.5px;transform:scaleX(0.854)">HMS5 V</span><span class="c t" style="transform:scaleX(0.778)">HMS5</span><span class="c l" style="transform:scaleX(0.818)">V</span><span class="c s" style="transform:scaleX(0.818)">E</span><span class="f"><svg class="ci" style="left:0.0px" viewBox="0 0 10 10"><circle cx="5" cy="5" r="4.4"/><circle cx="5" cy="5" r="2.5"/></svg></span></div>
<div class="row alt bd" style="top:1132.80px"><span class="c b" style="transform:scaleX(0.905)">45</span><span class="c w" style="transform:scaleX(0.905)">7</span><svg class="tri" viewBox="0 0 10 9"><path d="M5 0L10 9H0z"/></svg><span class="c p" style="transform:scaleX(0.866)">32X45X7 </span><span class="c p" style="left:152.5px;transform:scaleX(0.845)">HMSA10 RG</span><span class="c t" style="transform:scaleX(0.774)">HMSA10</span><span class="c l" style="transform:scaleX(0.752)">RG</span><span class="c s" style="transform:scaleX(0.818)">E</span></div>
</div>
<div class="col" style="left:476.20px">
<div class="band blue" style="top:142.3px"><span class="bt" style="transform:scaleX(0.876)">METRIC Shaft Diameter (cont.)  –  32 mm   (1.260")</span></div>
<div class="row alt bd" style="top:161.20px"><span class="c b" style="transform:scaleX(0.905)">45</span><span class="c w" style="transform:scaleX(0.905)">7</span><span class="c p" style="transform:scaleX(0.866)">32X45X7 </span><span class="c p" style="left:152.5px;transform:scaleX(0.869)">HMSA10 V</span><span class="c t" style="transform:scaleX(0.774)">HMSA10</span><span class="c l" style="transform:scaleX(0.818)">V</span><span class="c s" style="transform:scaleX(0.818)">E</span><span class="f"><svg class="ci" style="left:0.0px" viewBox="0 0 10 10"><circle cx="5" cy="5" r="4.4"/><circle cx="5" cy="5" r="2.5"/></svg></span></div>
<div class="row bd" style="top:175.21px"><span class="c b" style="transform:scaleX(0.905)">45</span><span class="c w" style="transform:scaleX(0.905)">8</span><span class="c p" style="transform:scaleX(0.866)">32X45X8 </span><span class="c p" style="left:152.5px;transform:scaleX(0.848)">CRW1 R</span><span class="c t" style="transform:scaleX(0.732)">CRW1</span><span class="c l" style="transform:scaleX(0.818)">R</span><span class="c s" style="transform:scaleX(0.818)">W</span><span class="f"><i class="sq" style="left:0.5px"></i></span></div>
<div class="row alt bd" style="top:189.23px"><span class="c b" style="transform:scaleX(0.905)">45</span><span class="c w" style="transform:scaleX(0.905)">8</span><span class="c p" style="transform:scaleX(0.866)">32X45X8 </span><span class="c p" style="left:152.5px;transform:scaleX(0.857)">HMS5 RG</span><span class="c t" style="transform:scaleX(0.778)">HMS5</span><span class="c l" style="transform:scaleX(0.752)">RG</span><span class="c s" style="transform:scaleX(0.818)">E</span></div>
<div class="row bd" style="top:203.25px"><span class="c b" style="transform:scaleX(0.905)">45</span><span class="c w" style="transform:scaleX(0.905)">8</span><span class="c p" style="transform:scaleX(0.866)">32X45X8 </span><span class="c p" style="left:152.5px;transform:scaleX(0.854)">HMS5 V</span><span class="c t" style="transform:scaleX(0.778)">HMS5</span><span class="c l" style="transform:scaleX(0.818)">V</span><span class="c s" style="transform:scaleX(0.818)">E</span><span class="f"><svg class="ci" style="left:0.0px" viewBox="0 0 10 10"><circle cx="5" cy="5" r="4.4"/><circle cx="5" cy="5" r="2.5"/></svg></span></div>
<div class="row alt bd" style="top:217.26px"><span class="c b" style="transform:scaleX(0.905)">45</span><span class="c w" style="transform:scaleX(0.905)">8</span><span class="c p" style="transform:scaleX(0.866)">32X45X8 </span><span class="c p" style="left:152.5px;transform:scaleX(0.845)">HMSA10 RG</span><span class="c t" style="transform:scaleX(0.774)">HMSA10</span><span class="c l" style="transform:scaleX(0.752)">RG</span><span class="c s" style="transform:scaleX(0.818)">E</span></div>
<div class="row bd" style="top:231.27px"><span class="c b" style="transform:scaleX(0.905)">45</span><span class="c w" style="transform:scaleX(0.905)">8</span><span class="c p" style="transform:scaleX(0.866)">32X45X8 </span><span class="c p" style="left:152.5px;transform:scaleX(0.869)">HMSA10 V</span><span class="c t" style="transform:scaleX(0.774)">HMSA10</span><span class="c l" style="transform:scaleX(0.818)">V</span><span class="c s" style="transform:scaleX(0.818)">E</span><span class="f"><svg class="ci" style="left:0.0px" viewBox="0 0 10 10"><circle cx="5" cy="5" r="4.4"/><circle cx="5" cy="5" r="2.5"/></svg></span></div>
<div class="row alt lt" style="top:245.29px"><span class="c b" style="transform:scaleX(0.905)">46</span><span class="c w" style="transform:scaleX(0.905)">8</span><span class="c p" style="transform:scaleX(0.848)">32X46X8 </span><span class="c p" style="left:151.5px;transform:scaleX(0.775)">CRS1 R</span><span class="c t" style="transform:scaleX(0.747)">CRS1</span><span class="c l" style="transform:scaleX(0.818)">R</span><span class="c s" style="transform:scaleX(0.818)">S</span></div>
<div class="row bd" style="top:259.31px"><span class="c b" style="transform:scaleX(0.905)">47</span><span class="c w" style="transform:scaleX(0.905)">6</span><span class="c p" style="transform:scaleX(0.866)">32X47X6 </span><span class="c p" style="left:152.5px;transform:scaleX(0.857)">HMS5 RG</span><span class="c t" style="transform:scaleX(0.778)">HMS5</span><span class="c l" style="transform:scaleX(0.752)">RG</span><span class="c s" style="transform:scaleX(0.818)">E</span></div>
<div class="row alt bd" style="top:273.32px"><span class="c b" style="transform:scaleX(0.905)">47</span><span class="c w" style="transform:scaleX(0.905)">6</span><span class="c p" style="transform:scaleX(0.866)">32X47X6 </span><span class="c p" style="left:152.5px;transform:scaleX(0.854)">HMS5 V</span><span class="c t" style="transform:scaleX(0.778)">HMS5</span><span class="c l" style="transform:scaleX(0.818)">V</span><span class="c s" style="transform:scaleX(0.818)">E</span><span class="f"><svg class="ci" style="left:0.0px" viewBox="0 0 10 10"><circle cx="5" cy="5" r="4.4"/><circle cx="5" cy="5" r="2.5"/></svg></span></div>
<div class="row bd" style="top:287.33px"><span class="c b" style="transform:scaleX(0.905)">47</span><span class="c w" style="transform:scaleX(0.905)">6</span><span class="c p" style="transform:scaleX(0.866)">32X47X6 </span><span class="c p" style="left:152.5px;transform:scaleX(0.845)">HMSA10 RG</span><span class="c t" style="transform:scaleX(0.774)">HMSA10</span><span class="c l" style="transform:scaleX(0.752)">RG</span><span class="c s" style="transform:scaleX(0.818)">E</span></div>
<div class="row alt bd" style="top:301.35px"><span class="c b" style="transform:scaleX(0.905)">47</span><span class="c w" style="transform:scaleX(0.905)">6</span><span class="c p" style="transform:scaleX(0.866)">32X47X6 </span><span class="c p" style="left:152.5px;transform:scaleX(0.869)">HMSA10 V</span><span class="c t" style="transform:scaleX(0.774)">HMSA10</span><span class="c l" style="transform:scaleX(0.818)">V</span><span class="c s" style="transform:scaleX(0.818)">E</span><span class="f"><svg class="ci" style="left:0.0px" viewBox="0 0 10 10"><circle cx="5" cy="5" r="4.4"/><circle cx="5" cy="5" r="2.5"/></svg></span></div>
<div class="row bd" style="top:315.37px"><span class="c b" style="transform:scaleX(0.905)">47</span><span class="c w" style="transform:scaleX(0.905)">7</span><span class="c p" style="transform:scaleX(0.866)">32X47X7 </span><span class="c p" style="left:152.5px;transform:scaleX(0.857)">HMS5 RG</span><span class="c t" style="transform:scaleX(0.778)">HMS5</span><span class="c l" style="transform:scaleX(0.752)">RG</span><span class="c s" style="transform:scaleX(0.818)">E</span></div>
<div class="row alt bd" style="top:329.38px"><span class="c b" style="transform:scaleX(0.905)">47</span><span class="c w" style="transform:scaleX(0.905)">7</span><span class="c p" style="transform:scaleX(0.866)">32X47X7 </span><span class="c p" style="left:152.5px;transform:scaleX(0.854)">HMS5 V</span><span class="c t" style="transform:scaleX(0.778)">HMS5</span><span class="c l" style="transform:scaleX(0.818)">V</span><span class="c s" style="transform:scaleX(0.818)">E</span><span class="f"><svg class="ci" style="left:0.0px" viewBox="0 0 10 10"><circle cx="5" cy="5" r="4.4"/><circle cx="5" cy="5" r="2.5"/></svg></span></div>
<div class="row bd" style="top:343.39px"><span class="c b" style="transform:scaleX(0.905)">47</span><span class="c w" style="transform:scaleX(0.905)">7</span><svg class="tri" viewBox="0 0 10 9"><path d="M5 0L10 9H0z"/></svg><span class="c p" style="transform:scaleX(0.866)">32X47X7 </span><span class="c p" style="left:152.5px;transform:scaleX(0.845)">HMSA10 RG</span><span class="c t" style="transform:scaleX(0.774)">HMSA10</span><span class="c l" style="transform:scaleX(0.752)">RG</span><span class="c s" style="transform:scaleX(0.818)">E</span></div>
<div class="row alt bd" style="top:357.41px"><span class="c b" style="transform:scaleX(0.905)">47</span><span class="c w" style="transform:scaleX(0.905)">7</span><span class="c p" style="transform:scaleX(0.866)">32X47X7 </span><span class="c p" style="left:152.5px;transform:scaleX(0.869)">HMSA10 V</span><span class="c t" style="transform:scaleX(0.774)">HMSA10</span><span class="c l" style="transform:scaleX(0.818)">V</span><span class="c s" style="transform:scaleX(0.818)">E</span><span class="f"><svg class="ci" style="left:0.0px" viewBox="0 0 10 10"><circle cx="5" cy="5" r="4.4"/><circle cx="5" cy="5" r="2.5"/></svg></span></div>
<div class="row bd" style="top:371.43px"><span class="c b" style="transform:scaleX(0.905)">47</span><span class="c w" style="transform:scaleX(0.905)">8</span><span class="c p" style="transform:scaleX(0.866)">32X47X8 </span><span class="c p" style="left:152.5px;transform:scaleX(0.848)">CRW1 R</span><span class="c t" style="transform:scaleX(0.732)">CRW1</span><span class="c l" style="transform:scaleX(0.818)">R</span><span class="c s" style="transform:scaleX(0.818)">W</span><span class="f"><i class="sq" style="left:0.5px"></i></span></div>
<div class="row alt bd" style="top:385.44px"><span class="c b" style="transform:scaleX(0.905)">47</span><span class="c w" style="transform:scaleX(0.905)">8</span><span class="c p" style="transform:scaleX(0.866)">32X47X8 </span><span class="c p" style="left:152.5px;transform:scaleX(0.841)">CRW1 V</span><span class="c t" style="transform:scaleX(0.732)">CRW1</span><span class="c l" style="transform:scaleX(0.818)">V</span><span class="c s" style="transform:scaleX(0.818)">W</span><span class="f"><i class="sq" style="left:0.5px"></i></span></div>
<div class="row bd" style="top:399.45px"><span class="c b" style="transform:scaleX(0.905)">47</span><span class="c w" style="transform:scaleX(0.905)">8</span><span class="c p" style="transform:scaleX(0.866)">32X47X8 </span><span class="c p" style="left:152.5px;transform:scaleX(0.857)">HMS5 RG</span><span class="c t" style="transform:scaleX(0.778)">HMS5</span><span class="c l" style="transform:scaleX(0.752)">RG</span><span class="c s" style="transform:scaleX(0.818)">E</span></div>
<div class="row alt bd" style="top:413.47px"><span class="c b" style="transform:scaleX(0.905)">47</span><span class="c w" style="transform:scaleX(0.905)">8</span><span class="c p" style="transform:scaleX(0.866)">32X47X8 </span><span class="c p" style="left:152.5px;transform:scaleX(0.854)">HMS5 V</span><span class="c t" style="transform:scaleX(0.778)">HMS5</span><span class="c l" style="transform:scaleX(0.818)">V</span><span class="c s" style="transform:scaleX(0.818)">E</span><span class="f"><svg class="ci" style="left:0.0px" viewBox="0 0 10 10"><circle cx="5" cy="5" r="4.4"/><circle cx="5" cy="5" r="2.5"/></svg></span></div>
<div class="row bd" style="top:427.49px"><span class="c b" style="transform:scaleX(0.905)">47</span><span class="c w" style="transform:scaleX(0.905)">8</span><span class="c p" style="transform:scaleX(0.866)">32X47X8 </span><span class="c p" style="left:152.5px;transform:scaleX(0.845)">HMSA10 RG</span><span class="c t" style="transform:scaleX(0.774)">HMSA10</span><span class="c l" style="transform:scaleX(0.752)">RG</span><span class="c s" style="transform:scaleX(0.818)">E</span></div>
<div class="row alt bd" style="top:441.50px"><span class="c b" style="transform:scaleX(0.905)">47</span><span class="c w" style="transform:scaleX(0.905)">8</span><span class="c p" style="transform:scaleX(0.866)">32X47X8 </span><span class="c p" style="left:152.5px;transform:scaleX(0.869)">HMSA10 V</span><span class="c t" style="transform:scaleX(0.774)">HMSA10</span><span class="c l" style="transform:scaleX(0.818)">V</span><span class="c s" style="transform:scaleX(0.818)">E</span><span class="f"><svg class="ci" style="left:0.0px" viewBox="0 0 10 10"><circle cx="5" cy="5" r="4.4"/><circle cx="5" cy="5" r="2.5"/></svg></span></div>
<div class="row bd" style="top:455.51px"><span class="c b" style="transform:scaleX(0.905)">47</span><span class="c w" style="transform:scaleX(0.905)">10</span><span class="c p" style="transform:scaleX(0.866)">32X47X10 </span><span class="c p" style="left:158.9px;transform:scaleX(0.857)">HMS5 RG</span><span class="c t" style="transform:scaleX(0.778)">HMS5</span><span class="c l" style="transform:scaleX(0.752)">RG</span><span class="c s" style="transform:scaleX(0.818)">E</span></div>
<div class="row alt bd" style="top:469.53px"><span class="c b" style="transform:scaleX(0.905)">47</span><span class="c w" style="transform:scaleX(0.905)">10</span><span class="c p" style="transform:scaleX(0.866)">32X47X10 </span><span class="c p" style="left:158.9px;transform:scaleX(0.854)">HMS5 V</span><span class="c t" style="transform:scaleX(0.778)">HMS5</span><span class="c l" style="transform:scaleX(0.818)">V</span><span class="c s" style="transform:scaleX(0.818)">E</span><span class="f"><svg class="ci" style="left:0.0px" viewBox="0 0 10 10"><circle cx="5" cy="5" r="4.4"/><circle cx="5" cy="5" r="2.5"/></svg></span></div>
<div class="row bd" style="top:483.55px"><span class="c b" style="transform:scaleX(0.905)">47</span><span class="c w" style="transform:scaleX(0.905)">10</span><span class="c p" style="transform:scaleX(0.866)">32X47X10 </span><span class="c p" style="left:158.9px;transform:scaleX(0.845)">HMSA10 RG</span><span class="c t" style="transform:scaleX(0.774)">HMSA10</span><span class="c l" style="transform:scaleX(0.752)">RG</span><span class="c s" style="transform:scaleX(0.818)">E</span></div>
<div class="row alt bd" style="top:497.56px"><span class="c b" style="transform:scaleX(0.905)">47</span><span class="c w" style="transform:scaleX(0.905)">10</span><span class="c p" style="transform:scaleX(0.866)">32X47X10 </span><span class="c p" style="left:158.9px;transform:scaleX(0.869)">HMSA10 V</span><span class="c t" style="transform:scaleX(0.774)">HMSA10</span><span class="c l" style="transform:scaleX(0.818)">V</span><span class="c s" style="transform:scaleX(0.818)">E</span><span class="f"><svg class="ci" style="left:0.0px" viewBox="0 0 10 10"><circle cx="5" cy="5" r="4.4"/><circle cx="5" cy="5" r="2.5"/></svg></span></div>
<div class="row lt" style="top:511.57px"><span class="c b" style="transform:scaleX(0.905)">48</span><span class="c w" style="transform:scaleX(0.905)">5</span><span class="c p" style="transform:scaleX(0.848)">32X48X5 </span><span class="c p" style="left:151.5px;transform:scaleX(0.824)">HMS4 R</span><span class="c t" style="transform:scaleX(0.766)">HMS4</span><span class="c l" style="transform:scaleX(0.818)">R</span><span class="c s" style="transform:scaleX(0.818)">S</span></div>
<div class="row alt lt" style="top:525.59px"><span class="c b" style="transform:scaleX(0.905)">48</span><span class="c w" style="transform:scaleX(0.905)">5</span><span class="c p" style="transform:scaleX(0.848)">32X48X5 </span><span class="c p" style="left:151.5px;transform:scaleX(0.834)">HMSA7 R</span><span class="c t" style="transform:scaleX(0.747)">HMSA7</span><span class="c l" style="transform:scaleX(0.818)">R</span><span class="c s" style="transform:scaleX(0.818)">S</span></div>
<div class="row lt" style="top:539.61px"><span class="c b" style="transform:scaleX(0.905)">48</span><span class="c w" style="transform:scaleX(0.905)">7</span><span class="c p" style="transform:scaleX(0.848)">32X48X7 </span><span class="c p" style="left:151.5px;transform:scaleX(0.824)">HMS4 R</span><span class="c t" style="transform:scaleX(0.766)">HMS4</span><span class="c l" style="transform:scaleX(0.818)">R</span><span class="c s" style="transform:scaleX(0.818)">S</span></div>
<div class="row alt bd" style="top:553.62px"><span class="c b" style="transform:scaleX(0.905)">48</span><span class="c w" style="transform:scaleX(0.905)">8</span><span class="c p" style="transform:scaleX(0.866)">32X48X8 </span><span class="c p" style="left:152.5px;transform:scaleX(0.848)">CRW1 R</span><span class="c t" style="transform:scaleX(0.732)">CRW1</span><span class="c l" style="transform:scaleX(0.818)">R</span><span class="c s" style="transform:scaleX(0.818)">W</span><span class="f"><i class="sq" style="left:0.5px"></i></span></div>
<div class="row bd" style="top:567.63px"><span class="c b" style="transform:scaleX(0.905)">48</span><span class="c w" style="transform:scaleX(0.905)">8</span><span class="c p" style="transform:scaleX(0.866)">32X48X8 </span><span class="c p" style="left:152.5px;transform:scaleX(0.841)">CRW1 V</span><span class="c t" style="transform:scaleX(0.732)">CRW1</span><span class="c l" style="transform:scaleX(0.818)">V</span><span class="c s" style="transform:scaleX(0.818)">W</span><span class="f"><i class="sq" style="left:0.5px"></i></span></div>
<div class="row alt bd" style="top:581.65px"><span class="c b" style="transform:scaleX(0.905)">48</span><span class="c w" style="transform:scaleX(0.905)">8</span><span class="c p" style="transform:scaleX(0.866)">32X48X8 </span><span class="c p" style="left:152.5px;transform:scaleX(0.857)">HMS5 RG</span><span class="c t" style="transform:scaleX(0.778)">HMS5</span><span class="c l" style="transform:scaleX(0.752)">RG</span><span class="c s" style="transform:scaleX(0.818)">E</span></div>
<div class="row bd" style="top:595.67px"><span class="c b" style="transform:scaleX(0.905)">48</span><span class="c w" style="transform:scaleX(0.905)">8</span><span class="c p" style="transform:scaleX(0.866)">32X48X8 </span><span class="c p" style="left:152.5px;transform:scaleX(0.854)">HMS5 V</span><span class="c t" style="transform:scaleX(0.778)">HMS5</span><span class="c l" style="transform:scaleX(0.818)">V</span><span class="c s" style="transform:scaleX(0.818)">E</span><span class="f"><svg class="ci" style="left:0.0px" viewBox="0 0 10 10"><circle cx="5" cy="5" r="4.4"/><circle cx="5" cy="5" r="2.5"/></svg></span></div>
<div class="row alt bd" style="top:609.68px"><span class="c b" style="transform:scaleX(0.905)">48</span><span class="c w" style="transform:scaleX(0.905)">8</span><svg class="tri" viewBox="0 0 10 9"><path d="M5 0L10 9H0z"/></svg><span class="c p" style="transform:scaleX(0.866)">32X48X8 </span><span class="c p" style="left:152.5px;transform:scaleX(0.845)">HMSA10 RG</span><span class="c t" style="transform:scaleX(0.774)">HMSA10</span><span class="c l" style="transform:scaleX(0.752)">RG</span><span class="c s" style="transform:scaleX(0.818)">E</span></div>
<div class="row bd" style="top:623.70px"><span class="c b" style="transform:scaleX(0.905)">48</span><span class="c w" style="transform:scaleX(0.905)">8</span><span class="c p" style="transform:scaleX(0.866)">32X48X8 </span><span class="c p" style="left:152.5px;transform:scaleX(0.869)">HMSA10 V</span><span class="c t" style="transform:scaleX(0.774)">HMSA10</span><span class="c l" style="transform:scaleX(0.818)">V</span><span class="c s" style="transform:scaleX(0.818)">E</span><span class="f"><svg class="ci" style="left:0.0px" viewBox="0 0 10 10"><circle cx="5" cy="5" r="4.4"/><circle cx="5" cy="5" r="2.5"/></svg></span></div>
<div class="row alt lt" style="top:637.71px"><span class="c b" style="transform:scaleX(0.905)">48</span><span class="c w" style="transform:scaleX(0.905)">8</span><span class="c p" style="left:99.9px;transform:scaleX(0.919)">12720</span><span class="c t" style="transform:scaleX(0.747)">HMSA7</span><span class="c l" style="transform:scaleX(0.818)">P</span><span class="c s" style="transform:scaleX(0.818)">S</span></div>
<div class="row bd" style="top:651.73px"><span class="c b" style="transform:scaleX(0.905)">50</span><span class="c w" style="transform:scaleX(0.905)">8</span><span class="c p" style="transform:scaleX(0.866)">32X50X8 </span><span class="c p" style="left:152.5px;transform:scaleX(0.848)">CRW1 R</span><span class="c t" style="transform:scaleX(0.732)">CRW1</span><span class="c l" style="transform:scaleX(0.818)">R</span><span class="c s" style="transform:scaleX(0.818)">W</span><span class="f"><i class="sq" style="left:0.5px"></i></span></div>
<div class="row alt bd" style="top:665.74px"><span class="c b" style="transform:scaleX(0.905)">50</span><span class="c w" style="transform:scaleX(0.905)">8</span><span class="c p" style="transform:scaleX(0.866)">32X50X8 </span><span class="c p" style="left:152.5px;transform:scaleX(0.841)">CRW1 V</span><span class="c t" style="transform:scaleX(0.732)">CRW1</span><span class="c l" style="transform:scaleX(0.818)">V</span><span class="c s" style="transform:scaleX(0.818)">W</span><span class="f"><i class="sq" style="left:0.5px"></i></span></div>
<div class="row bd" style="top:679.76px"><span class="c b" style="transform:scaleX(0.905)">50</span><span class="c w" style="transform:scaleX(0.905)">8</span><span class="c p" style="transform:scaleX(0.866)">32X50X8 </span><span class="c p" style="left:152.5px;transform:scaleX(0.857)">HMS5 RG</span><span class="c t" style="transform:scaleX(0.778)">HMS5</span><span class="c l" style="transform:scaleX(0.752)">RG</span><span class="c s" style="transform:scaleX(0.818)">E</span></div>
<div class="row alt bd" style="top:693.77px"><span class="c b" style="transform:scaleX(0.905)">50</span><span class="c w" style="transform:scaleX(0.905)">8</span><span class="c p" style="transform:scaleX(0.866)">32X50X8 </span><span class="c p" style="left:152.5px;transform:scaleX(0.854)">HMS5 V</span><span class="c t" style="transform:scaleX(0.778)">HMS5</span><span class="c l" style="transform:scaleX(0.818)">V</span><span class="c s" style="transform:scaleX(0.818)">E</span><span class="f"><svg class="ci" style="left:0.0px" viewBox="0 0 10 10"><circle cx="5" cy="5" r="4.4"/><circle cx="5" cy="5" r="2.5"/></svg></span></div>
<div class="row bd" style="top:707.79px"><span class="c b" style="transform:scaleX(0.905)">50</span><span class="c w" style="transform:scaleX(0.905)">8</span><svg class="tri" viewBox="0 0 10 9"><path d="M5 0L10 9H0z"/></svg><span class="c p" style="transform:scaleX(0.866)">32X50X8 </span><span class="c p" style="left:152.5px;transform:scaleX(0.845)">HMSA10 RG</span><span class="c t" style="transform:scaleX(0.774)">HMSA10</span><span class="c l" style="transform:scaleX(0.752)">RG</span><span class="c s" style="transform:scaleX(0.818)">E</span></div>
<div class="row alt bd" style="top:721.80px"><span class="c b" style="transform:scaleX(0.905)">50</span><span class="c w" style="transform:scaleX(0.905)">8</span><span class="c p" style="transform:scaleX(0.866)">32X50X8 </span><span class="c p" style="left:152.5px;transform:scaleX(0.869)">HMSA10 V</span><span class="c t" style="transform:scaleX(0.774)">HMSA10</span><span class="c l" style="transform:scaleX(0.818)">V</span><span class="c s" style="transform:scaleX(0.818)">E</span><span class="f"><svg class="ci" style="left:0.0px" viewBox="0 0 10 10"><circle cx="5" cy="5" r="4.4"/><circle cx="5" cy="5" r="2.5"/></svg></span></div>
<div class="row bd" style="top:735.82px"><span class="c b" style="transform:scaleX(0.905)">50</span><span class="c w" style="transform:scaleX(0.905)">10</span><span class="c p" style="transform:scaleX(0.866)">32X50X10 </span><span class="c p" style="left:158.9px;transform:scaleX(0.857)">HMS5 RG</span><span class="c t" style="transform:scaleX(0.778)">HMS5</span><span class="c l" style="transform:scaleX(0.752)">RG</span><span class="c s" style="transform:scaleX(0.818)">E</span></div>
<div class="row alt bd" style="top:749.83px"><span class="c b" style="transform:scaleX(0.905)">50</span><span class="c w" style="transform:scaleX(0.905)">10</span><span class="c p" style="transform:scaleX(0.866)">32X50X10 </span><span class="c p" style="left:158.9px;transform:scaleX(0.854)">HMS5 V</span><span class="c t" style="transform:scaleX(0.778)">HMS5</span><span class="c l" style="transform:scaleX(0.818)">V</span><span class="c s" style="transform:scaleX(0.818)">E</span><span class="f"><svg class="ci" style="left:0.0px" viewBox="0 0 10 10"><circle cx="5" cy="5" r="4.4"/><circle cx="5" cy="5" r="2.5"/></svg></span></div>
<div class="row bd" style="top:763.85px"><span class="c b" style="transform:scaleX(0.905)">50</span><span class="c w" style="transform:scaleX(0.905)">10</span><span class="c p" style="transform:scaleX(0.866)">32X50X10 </span><span class="c p" style="left:158.9px;transform:scaleX(0.845)">HMSA10 RG</span><span class="c t" style="transform:scaleX(0.774)">HMSA10</span><span class="c l" style="transform:scaleX(0.752)">RG</span><span class="c s" style="transform:scaleX(0.818)">E</span></div>
<div class="row alt bd" style="top:777.86px"><span class="c b" style="transform:scaleX(0.905)">50</span><span class="c w" style="transform:scaleX(0.905)">10</span><span class="c p" style="transform:scaleX(0.866)">32X50X10 </span><span class="c p" style="left:158.9px;transform:scaleX(0.869)">HMSA10 V</span><span class="c t" style="transform:scaleX(0.774)">HMSA10</span><span class="c l" style="transform:scaleX(0.818)">V</span><span class="c s" style="transform:scaleX(0.818)">E</span><span class="f"><svg class="ci" style="left:0.0px" viewBox="0 0 10 10"><circle cx="5" cy="5" r="4.4"/><circle cx="5" cy="5" r="2.5"/></svg></span></div>
<div class="row bd" style="top:791.88px"><span class="c b" style="transform:scaleX(0.905)">52</span><span class="c w" style="transform:scaleX(0.905)">7</span><span class="c p" style="transform:scaleX(0.866)">32X52X7 </span><span class="c p" style="left:152.5px;transform:scaleX(0.857)">HMS5 RG</span><span class="c t" style="transform:scaleX(0.778)">HMS5</span><span class="c l" style="transform:scaleX(0.752)">RG</span><span class="c s" style="transform:scaleX(0.818)">E</span></div>
<div class="row alt bd" style="top:805.89px"><span class="c b" style="transform:scaleX(0.905)">52</span><span class="c w" style="transform:scaleX(0.905)">7</span><span class="c p" style="transform:scaleX(0.866)">32X52X7 </span><span class="c p" style="left:152.5px;transform:scaleX(0.854)">HMS5 V</span><span class="c t" style="transform:scaleX(0.778)">HMS5</span><span class="c l" style="transform:scaleX(0.818)">V</span><span class="c s" style="transform:scaleX(0.818)">E</span><span class="f"><svg class="ci" style="left:0.0px" viewBox="0 0 10 10"><circle cx="5" cy="5" r="4.4"/><circle cx="5" cy="5" r="2.5"/></svg></span></div>
<div class="row bd" style="top:819.91px"><span class="c b" style="transform:scaleX(0.905)">52</span><span class="c w" style="transform:scaleX(0.905)">7</span><svg class="tri" viewBox="0 0 10 9"><path d="M5 0L10 9H0z"/></svg><span class="c p" style="transform:scaleX(0.866)">32X52X7 </span><span class="c p" style="left:152.5px;transform:scaleX(0.845)">HMSA10 RG</span><span class="c t" style="transform:scaleX(0.774)">HMSA10</span><span class="c l" style="transform:scaleX(0.752)">RG</span><span class="c s" style="transform:scaleX(0.818)">E</span></div>
<div class="row alt bd" style="top:833.92px"><span class="c b" style="transform:scaleX(0.905)">52</span><span class="c w" style="transform:scaleX(0.905)">7</span><span class="c p" style="transform:scaleX(0.866)">32X52X7 </span><span class="c p" style="left:152.5px;transform:scaleX(0.869)">HMSA10 V</span><span class="c t" style="transform:scaleX(0.774)">HMSA10</span><span class="c l" style="transform:scaleX(0.818)">V</span><span class="c s" style="transform:scaleX(0.818)">E</span><span class="f"><svg class="ci" style="left:0.0px" viewBox="0 0 10 10"><circle cx="5" cy="5" r="4.4"/><circle cx="5" cy="5" r="2.5"/></svg></span></div>
<div class="row bd" style="top:847.94px"><span class="c b" style="transform:scaleX(0.905)">52</span><span class="c w" style="transform:scaleX(0.905)">8</span><span class="c p" style="transform:scaleX(0.866)">32X52X8 </span><span class="c p" style="left:152.5px;transform:scaleX(0.848)">CRW1 R</span><span class="c t" style="transform:scaleX(0.732)">CRW1</span><span class="c l" style="transform:scaleX(0.818)">R</span><span class="c s" style="transform:scaleX(0.818)">W</span><span class="f"><i class="sq" style="left:0.5px"></i></span></div>
<div class="row alt bd" style="top:861.95px"><span class="c b" style="transform:scaleX(0.905)">52</span><span class="c w" style="transform:scaleX(0.905)">8</span><span class="c p" style="transform:scaleX(0.866)">32X52X8 </span><span class="c p" style="left:152.5px;transform:scaleX(0.841)">CRW1 V</span><span class="c t" style="transform:scaleX(0.732)">CRW1</span><span class="c l" style="transform:scaleX(0.818)">V</span><span class="c s" style="transform:scaleX(0.818)">W</span><span class="f"><i class="sq" style="left:0.5px"></i></span></div>
<div class="row bd" style="top:875.97px"><span class="c b" style="transform:scaleX(0.905)">52</span><span class="c w" style="transform:scaleX(0.905)">8</span><span class="c p" style="transform:scaleX(0.866)">32X52X8 </span><span class="c p" style="left:152.5px;transform:scaleX(0.857)">HMS5 RG</span><span class="c t" style="transform:scaleX(0.778)">HMS5</span><span class="c l" style="transform:scaleX(0.752)">RG</span><span class="c s" style="transform:scaleX(0.818)">E</span></div>
<div class="row alt bd" style="top:889.98px"><span class="c b" style="transform:scaleX(0.905)">52</span><span class="c w" style="transform:scaleX(0.905)">8</span><span class="c p" style="transform:scaleX(0.866)">32X52X8 </span><span class="c p" style="left:152.5px;transform:scaleX(0.854)">HMS5 V</span><span class="c t" style="transform:scaleX(0.778)">HMS5</span><span class="c l" style="transform:scaleX(0.818)">V</span><span class="c s" style="transform:scaleX(0.818)">E</span><span class="f"><svg class="ci" style="left:0.0px" viewBox="0 0 10 10"><circle cx="5" cy="5" r="4.4"/><circle cx="5" cy="5" r="2.5"/></svg></span></div>
<div class="row bd" style="top:904.00px"><span class="c b" style="transform:scaleX(0.905)">52</span><span class="c w" style="transform:scaleX(0.905)">8</span><span class="c p" style="transform:scaleX(0.866)">32X52X8 </span><span class="c p" style="left:152.5px;transform:scaleX(0.845)">HMSA10 RG</span><span class="c t" style="transform:scaleX(0.774)">HMSA10</span><span class="c l" style="transform:scaleX(0.752)">RG</span><span class="c s" style="transform:scaleX(0.818)">E</span></div>
<div class="row alt bd" style="top:918.01px"><span class="c b" style="transform:scaleX(0.905)">52</span><span class="c w" style="transform:scaleX(0.905)">8</span><span class="c p" style="transform:scaleX(0.866)">32X52X8 </span><span class="c p" style="left:152.5px;transform:scaleX(0.869)">HMSA10 V</span><span class="c t" style="transform:scaleX(0.774)">HMSA10</span><span class="c l" style="transform:scaleX(0.818)">V</span><span class="c s" style="transform:scaleX(0.818)">E</span><span class="f"><svg class="ci" style="left:0.0px" viewBox="0 0 10 10"><circle cx="5" cy="5" r="4.4"/><circle cx="5" cy="5" r="2.5"/></svg></span></div>
<div class="row lt" style="top:932.03px"><span class="c b" style="transform:scaleX(0.905)">52</span><span class="c w" style="transform:scaleX(0.905)">10</span><span class="c p" style="transform:scaleX(0.845)">32X52X10 </span><span class="c p" style="left:157.6px;transform:scaleX(0.834)">HMSA7 R</span><span class="c t" style="transform:scaleX(0.747)">HMSA7</span><span class="c l" style="transform:scaleX(0.818)">R</span><span class="c s" style="transform:scaleX(0.818)">S</span></div>
<div class="row alt lt" style="top:946.04px"><span class="c b" style="transform:scaleX(0.905)">52</span><span class="c w" style="transform:scaleX(0.905)">11</span><span class="c p" style="transform:scaleX(0.859)">32X52X11 </span><span class="c p" style="left:157.6px;transform:scaleX(0.834)">HMSA7 R</span><span class="c t" style="transform:scaleX(0.747)">HMSA7</span><span class="c l" style="transform:scaleX(0.818)">R</span><span class="c s" style="transform:scaleX(0.818)">S</span></div>
<div class="row lt" style="top:960.06px"><span class="c b" style="transform:scaleX(0.905)">54</span><span class="c w" style="transform:scaleX(0.905)">10</span><span class="c p" style="transform:scaleX(0.845)">32X54X10 </span><span class="c p" style="left:157.6px;transform:scaleX(0.834)">HMSA7 R</span><span class="c t" style="transform:scaleX(0.747)">HMSA7</span><span class="c l" style="transform:scaleX(0.818)">R</span><span class="c s" style="transform:scaleX(0.818)">S</span></div>
<div class="row alt bd" style="top:974.07px"><span class="c b" style="transform:scaleX(0.905)">55</span><span class="c w" style="transform:scaleX(0.905)">10</span><span class="c p" style="transform:scaleX(0.866)">32X55X10 </span><span class="c p" style="left:158.9px;transform:scaleX(0.857)">HMS5 RG</span><span class="c t" style="transform:scaleX(0.778)">HMS5</span><span class="c l" style="transform:scaleX(0.752)">RG</span><span class="c s" style="transform:scaleX(0.818)">E</span></div>
<div class="row bd" style="top:988.09px"><span class="c b" style="transform:scaleX(0.905)">55</span><span class="c w" style="transform:scaleX(0.905)">10</span><span class="c p" style="transform:scaleX(0.866)">32X55X10 </span><span class="c p" style="left:158.9px;transform:scaleX(0.854)">HMS5 V</span><span class="c t" style="transform:scaleX(0.778)">HMS5</span><span class="c l" style="transform:scaleX(0.818)">V</span><span class="c s" style="transform:scaleX(0.818)">E</span><span class="f"><svg class="ci" style="left:0.0px" viewBox="0 0 10 10"><circle cx="5" cy="5" r="4.4"/><circle cx="5" cy="5" r="2.5"/></svg></span></div>
<div class="row alt bd" style="top:1002.10px"><span class="c b" style="transform:scaleX(0.905)">55</span><span class="c w" style="transform:scaleX(0.905)">10</span><svg class="tri" viewBox="0 0 10 9"><path d="M5 0L10 9H0z"/></svg><span class="c p" style="transform:scaleX(0.866)">32X55X10 </span><span class="c p" style="left:158.9px;transform:scaleX(0.845)">HMSA10 RG</span><span class="c t" style="transform:scaleX(0.774)">HMSA10</span><span class="c l" style="transform:scaleX(0.752)">RG</span><span class="c s" style="transform:scaleX(0.818)">E</span></div>
<div class="row bd" style="top:1016.12px"><span class="c b" style="transform:scaleX(0.905)">55</span><span class="c w" style="transform:scaleX(0.905)">10</span><span class="c p" style="transform:scaleX(0.866)">32X55X10 </span><span class="c p" style="left:158.9px;transform:scaleX(0.869)">HMSA10 V</span><span class="c t" style="transform:scaleX(0.774)">HMSA10</span><span class="c l" style="transform:scaleX(0.818)">V</span><span class="c s" style="transform:scaleX(0.818)">E</span><span class="f"><svg class="ci" style="left:0.0px" viewBox="0 0 10 10"><circle cx="5" cy="5" r="4.4"/><circle cx="5" cy="5" r="2.5"/></svg></span></div>
<div class="row alt bd" style="top:1030.13px"><span class="c b" style="transform:scaleX(0.905)">56</span><span class="c w" style="transform:scaleX(0.905)">8</span><span class="c p" style="transform:scaleX(0.866)">32X56X8 </span><span class="c p" style="left:152.5px;transform:scaleX(0.848)">CRW1 R</span><span class="c t" style="transform:scaleX(0.732)">CRW1</span><span class="c l" style="transform:scaleX(0.818)">R</span><span class="c s" style="transform:scaleX(0.818)">W</span><span class="f"><i class="sq" style="left:0.5px"></i></span></div>
<div class="row lt" style="top:1044.15px"><span class="c b" style="transform:scaleX(0.905)">56</span><span class="c w" style="transform:scaleX(0.905)">10</span><span class="c p" style="transform:scaleX(0.845)">32X56X10 </span><span class="c p" style="left:157.6px;transform:scaleX(0.824)">HMS4 R</span><span class="c t" style="transform:scaleX(0.766)">HMS4</span><span class="c l" style="transform:scaleX(0.818)">R</span><span class="c s" style="transform:scaleX(0.818)">S</span></div>
<div class="row alt lt" style="top:1058.16px"><span class="c b" style="transform:scaleX(0.905)">58</span><span class="c w" style="transform:scaleX(0.905)">8</span><span class="c p" style="transform:scaleX(0.848)">32X58X8 </span><span class="c p" style="left:151.5px;transform:scaleX(0.824)">HMS4 R</span><span class="c t" style="transform:scaleX(0.766)">HMS4</span><span class="c l" style="transform:scaleX(0.818)">R</span><span class="c s" style="transform:scaleX(0.818)">S</span></div>
<div class="row lt" style="top:1072.17px"><span class="c b" style="transform:scaleX(0.905)">58</span><span class="c w" style="transform:scaleX(0.905)">8</span><span class="c p" style="transform:scaleX(0.848)">32X58X8 </span><span class="c p" style="left:151.5px;transform:scaleX(0.834)">HMSA7 R</span><span class="c t" style="transform:scaleX(0.747)">HMSA7</span><span class="c l" style="transform:scaleX(0.818)">R</span><span class="c s" style="transform:scaleX(0.818)">S</span></div>
<div class="row alt lt" style="top:1086.19px"><span class="c b" style="transform:scaleX(0.905)">60</span><span class="c w" style="transform:scaleX(0.905)">8</span><span class="c p" style="transform:scaleX(0.848)">32X60X8 </span><span class="c p" style="left:151.5px;transform:scaleX(0.834)">HMSA7 R</span><span class="c t" style="transform:scaleX(0.747)">HMSA7</span><span class="c l" style="transform:scaleX(0.818)">R</span><span class="c s" style="transform:scaleX(0.818)">S</span></div>
<div class="row bd" style="top:1100.21px"><span class="c b" style="transform:scaleX(0.905)">62</span><span class="c w" style="transform:scaleX(0.905)">10</span><span class="c p" style="transform:scaleX(0.866)">32X62X10 </span><span class="c p" style="left:158.9px;transform:scaleX(0.857)">HMS5 RG</span><span class="c t" style="transform:scaleX(0.778)">HMS5</span><span class="c l" style="transform:scaleX(0.752)">RG</span><span class="c s" style="transform:scaleX(0.818)">E</span></div>
<div class="row alt bd" style="top:1114.22px"><span class="c b" style="transform:scaleX(0.905)">62</span><span class="c w" style="transform:scaleX(0.905)">10</span><span class="c p" style="transform:scaleX(0.866)">32X62X10 </span><span class="c p" style="left:158.9px;transform:scaleX(0.854)">HMS5 V</span><span class="c t" style="transform:scaleX(0.778)">HMS5</span><span class="c l" style="transform:scaleX(0.818)">V</span><span class="c s" style="transform:scaleX(0.818)">E</span><span class="f"><svg class="ci" style="left:0.0px" viewBox="0 0 10 10"><circle cx="5" cy="5" r="4.4"/><circle cx="5" cy="5" r="2.5"/></svg></span></div>
<div class="row bd" style="top:1128.24px"><span class="c b" style="transform:scaleX(0.905)">62</span><span class="c w" style="transform:scaleX(0.905)">10</span><svg class="tri" viewBox="0 0 10 9"><path d="M5 0L10 9H0z"/></svg><span class="c p" style="transform:scaleX(0.866)">32X62X10 </span><span class="c p" style="left:158.9px;transform:scaleX(0.845)">HMSA10 RG</span><span class="c t" style="transform:scaleX(0.774)">HMSA10</span><span class="c l" style="transform:scaleX(0.752)">RG</span><span class="c s" style="transform:scaleX(0.818)">E</span></div>
</div>
<div class="legend"><span class="lg" style="left:72.7px;transform:scaleX(0.912)">Seal tech:</span><span class="lg" style="left:160.8px;transform:scaleX(0.867)">W = SKF Wave</span><span class="lg" style="left:254.4px;transform:scaleX(0.864)">E = SKF Edge</span><span class="lg" style="left:342.4px;transform:scaleX(0.873)">F = SKF Flex</span><span class="lg" style="left:425.6px;transform:scaleX(0.935)">S = standard oil</span><span class="lg" style="left:527.0px;transform:scaleX(0.892)">G = grease</span><span class="lg" style="left:630.6px;transform:scaleX(0.949)">Bold part numbers are preferred designs</span></div>
<div class="pn">80</div>
</div>
</body></html>
